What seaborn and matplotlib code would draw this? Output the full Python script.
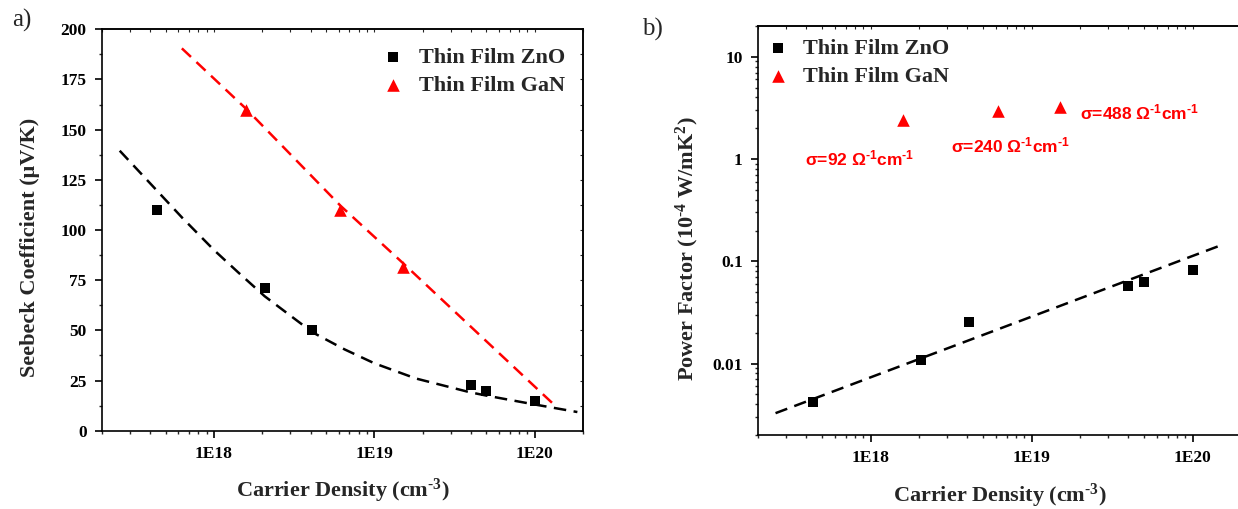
import numpy as np
import pandas as pd
import matplotlib
matplotlib.use('Agg')
import matplotlib.pyplot as plt
import seaborn as sns
from matplotlib.ticker import FixedLocator, LogLocator, MultipleLocator, NullFormatter

# values
zno_n = [4.4e17, 2.07e18, 4.1e18, 4.0e19, 5.0e19, 1.0e20]
zno_seebeck = [110, 71, 50, 23, 20, 15]
zno_pf = [0.0042, 0.0108, 0.0252, 0.057, 0.063, 0.082]

gan_n = [1.58e18, 6.15e18, 1.51e19]
gan_seebeck = [160, 110, 81.5]
gan_pf = [2.4, 2.95, 3.25]
gan_sigma = ['92', '240', '488']

# dashed guide lines
zno_fit_n = [2.58e17, 4.6e17, 6.35e17, 1.0e18, 1.41e18, 2.07e18, 4.12e18, 6.53e18,
             1.0e19, 1.82e19, 3.93e19, 5.0e19, 9.8e19, 1.85e20]
zno_fit_s = [139.5, 118, 106, 90, 79, 67, 49, 40.5, 33.6, 26, 19.2, 17.5, 13.2, 9.3]
gan_fit_n = [6.3e17, 1.58e18, 6.17e18, 1.51e19, 1.33e20]
gan_fit_s = [190.5, 160.5, 112, 83.5, 12.8]
pf_fit_n = [2.57e17, 1.52e20]
pf_fit_pf = [0.00327, 0.1445]

sns.set_theme(style='ticks')
plt.rcParams['font.family'] = ['Liberation Serif', 'DejaVu Serif']
plt.rcParams['font.weight'] = 'bold'
plt.rcParams['mathtext.default'] = 'regular'
plt.rcParams['axes.linewidth'] = 1.2

HY = '\u00ad'  # short hyphen for the superscripts (mathtext turns '-' into a long minus)

fig = plt.figure(figsize=(12.38, 5.09), dpi=100)
W, H = 1238, 509
ax1 = fig.add_axes([102 / W, 1 - 430.7 / H, 480.8 / W, 401.4 / H])
ax2 = fig.add_axes([758 / W, 1 - 435 / H, 483 / W, 409 / H])

dash = (0, (5, 3))
sq = dict(marker='s', s=44, color='black', edgecolor='black', linewidth=0)
tri = dict(marker='^', s=82, color='red', edgecolor='red', linewidth=0)

# ---- a) Seebeck
sns.lineplot(x=zno_fit_n, y=zno_fit_s, ax=ax1, color='black', linestyle=dash, lw=1.8)
sns.lineplot(x=gan_fit_n, y=gan_fit_s, ax=ax1, color='red', linestyle=dash, lw=1.8)
sns.scatterplot(x=zno_n, y=zno_seebeck, ax=ax1, label='Thin Film ZnO', zorder=3, **sq)
sns.scatterplot(x=gan_n, y=gan_seebeck, ax=ax1, label='Thin Film GaN', zorder=3, **tri)
ax1.set_xscale('log')
ax1.set_xlim(2e17, 2e20)
ax1.set_ylim(0, 200)
ax1.yaxis.set_major_locator(MultipleLocator(25))
ax1.yaxis.set_minor_locator(MultipleLocator(12.5))
ax1.set_ylabel('Seebeck Coefficient (\u03bcV/K)', fontsize=16, fontweight='bold')
ax1.yaxis.set_label_coords(-0.129, 0.457)

# ---- b) Power factor
sns.lineplot(x=pf_fit_n, y=pf_fit_pf, ax=ax2, color='black', linestyle=dash, lw=1.8)
sns.scatterplot(x=zno_n, y=zno_pf, ax=ax2, label='Thin Film ZnO', zorder=3, **sq)
sns.scatterplot(x=gan_n, y=gan_pf, ax=ax2, label='Thin Film GaN', zorder=3, **tri)
ax2.set_xscale('log')
ax2.set_yscale('log')
ax2.set_xlim(2e17, 2e20)
ax2.set_ylim(0.002, 20)
ax2.yaxis.set_major_locator(FixedLocator([0.01, 0.1, 1, 10]))
ax2.set_yticklabels(['0.01', '0.1', '1', '10'])
ax2.yaxis.set_minor_locator(LogLocator(base=10, subs=np.arange(2, 10)))
ax2.yaxis.set_minor_formatter(NullFormatter())
ax2.set_ylabel('Power Factor (10$^{' + HY + '4}$ W/mK$^{2}$)', fontsize=16, fontweight='bold')
ax2.yaxis.set_label_coords(-0.118, 0.455)

sig_pos = [(3.9e17, 0.86), (3.15e18, 1.15), (2.0e19, 2.44)]
for (px, py), sg in zip(sig_pos, gan_sigma):
    txt = '\u03c3=' + sg + ' \u03a9$^{' + HY + '1}$cm$^{' + HY + '1}$'
    ax2.text(px, py, txt, color='red', fontsize=12.5, fontweight='bold',
             family=['Liberation Sans', 'DejaVu Sans'], va='baseline', ha='left')

for ax in (ax1, ax2):
    ax.xaxis.set_major_locator(FixedLocator([1e18, 1e19, 1e20]))
    ax.set_xticklabels(['1E18', '1E19', '1E20'])
    ax.xaxis.set_minor_locator(LogLocator(base=10, subs=np.arange(2, 10)))
    ax.xaxis.set_minor_formatter(NullFormatter())
    ax.set_xlabel('Carrier Density (cm$^{' + HY + '3}$)', fontsize=16, fontweight='bold', labelpad=11)
    ax.tick_params(which='major', direction='out', length=5, width=1.2, labelsize=12.5, pad=6,
                   colors='black')
    ax.tick_params(which='minor', direction='out', length=2.5, width=1.0)
    for lab in ax.get_xticklabels() + ax.get_yticklabels():
        lab.set_fontweight('bold')
    for sp in ax.spines.values():
        sp.set_visible(True)
        sp.set_color('black')
    # tiny inward ticks on the top edge
    top = ax.secondary_xaxis('top')
    top.xaxis.set_major_locator(FixedLocator([1e18, 1e19, 1e20]))
    top.xaxis.set_minor_locator(LogLocator(base=10, subs=np.arange(2, 10)))
    top.tick_params(which='both', direction='in', length=2, width=0.8, labeltop=False)
    top.xaxis.set_major_formatter(NullFormatter())
    top.xaxis.set_minor_formatter(NullFormatter())

right = ax1.secondary_yaxis('right')
right.yaxis.set_major_locator(MultipleLocator(25))
right.yaxis.set_minor_locator(MultipleLocator(12.5))
right.tick_params(which='both', direction='in', length=2, width=0.8, labelright=False)
right.yaxis.set_major_formatter(NullFormatter())

leg_font = {'size': 16, 'weight': 'bold', 'family': 'Liberation Serif'}
ax1.legend(loc='upper right', bbox_to_anchor=(1.0, 1.0), frameon=False, prop=leg_font,
           handletextpad=0.65, labelspacing=0.35, borderaxespad=0.4, handlelength=1.0)
ax2.legend(loc='upper left', bbox_to_anchor=(-0.014, 1.008), frameon=False, prop=leg_font,
           handletextpad=0.65, labelspacing=0.35, borderaxespad=0.3, handlelength=1.0)

fig.text(12 / W, 1 - 20 / H, 'a)', fontsize=18, fontweight='normal', va='center', ha='left')
fig.text(642 / W, 1 - 29 / H, 'b)', fontsize=18, fontweight='normal', va='center', ha='left')

fig.savefig('out.png', dpi=100)
